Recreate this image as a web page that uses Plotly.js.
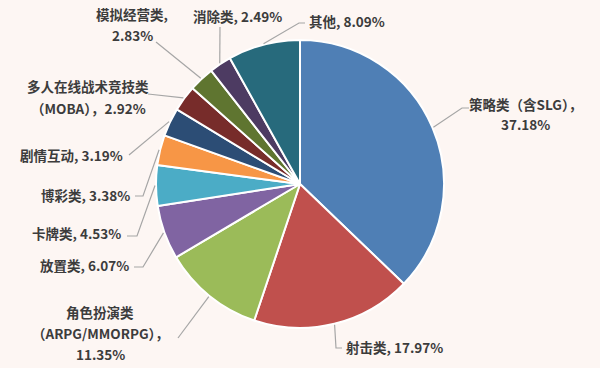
<!DOCTYPE html>
<html><head><meta charset="utf-8">
<script src="https://cdn.plot.ly/plotly-3.0.1.min.js"></script>
<style>html,body{margin:0;padding:0;background:#fdf6f3;}</style>
</head><body><div id="chart" style="width:600px;height:368px;"></div>
<script>
// Data
const categories = ["策略类（含SLG）","射击类","角色扮演类（ARPG/MMORPG）","放置类","卡牌类","博彩类","剧情互动","多人在线战术竞技类（MOBA）","模拟经营类","消除类","其他"];
const values = [37.18, 17.97, 11.35, 6.07, 4.53, 3.38, 3.19, 2.92, 2.83, 2.49, 8.09];
const labelTexts = [
  "策略类（含SLG），<br>37.18%",
  "射击类, 17.97%",
  "角色扮演类<br>（ARPG/MMORPG），<br>11.35%",
  "放置类, 6.07%",
  "卡牌类, 4.53%",
  "博彩类, 3.38%",
  "剧情互动, 3.19%",
  "多人在线战术竞技类<br>（MOBA），2.92%",
  "模拟经营类,<br>2.83%",
  "消除类, 2.49%",
  "其他, 8.09%"
];
const colors = ["#4f7fb5","#c0504d","#9bbb59","#8064a2","#4bacc6","#f79646","#2c4d75","#772c2a","#5f7530","#4d3b62","#276a7c"];

// Layout (pixels)
const W = 600, H = 368;
const cx = 300, cy = 184, R = 144;
const lineGap = 21;
// label placement: [x, y(center of block), xanchor, leader path points after edge]
const labelPos = [
  [525, 114, "center", [[462,108],[469,108]]],
  [344, 347, "left", [[336,348],[342,348]]],
  [100, 333, "center", [[178,338]]],
  [131, 265, "right", [[143,267],[134,267]]],
  [123, 233, "right", [[137,236],[127,236]]],
  [132, 195, "right", [[143,196],[135,196]]],
  [125, 155, "right", [[129,155]]],
  [88, 97, "center", [[148,94]]],
  [132, 24, "center", [[156,42]]],
  [191, 16, "left", [[220,27]]],
  [307, 21, "left", [[299,23],[305,23]]]
];
const px = x => x / W, py = y => (H - y) / H;

const total = values.reduce((a,b)=>a+b,0);
let cum = 0;
const annotations = [], shapes = [];
values.forEach((v,i) => {
  const mid = (cum + v/2) / total * 2*Math.PI;
  cum += v;
  const ex = cx + (R+1)*Math.sin(mid), ey = cy - (R+1)*Math.cos(mid);
  const p = labelPos[i];
  let d = "M" + px(ex) + "," + py(ey);
  p[3].forEach(pt => { d += " L" + px(pt[0]) + "," + py(pt[1]); });
  shapes.push({type:"path", xref:"paper", yref:"paper", path:d, line:{color:"#a6a6a6", width:1.2}});
  const lines = labelTexts[i].split("<br>");
  lines.forEach((t, k) => {
    const yy = p[1] + (k - (lines.length-1)/2) * lineGap;
    annotations.push({
      xref:"paper", yref:"paper", x:px(p[0]), y:py(yy), xanchor:p[2], yanchor:"middle",
      text:t, showarrow:false,
      font:{family:"Noto Sans CJK SC, sans-serif", size:13.5, color:"#3c3c3c", weight:"bold"}
    });
  });
});

const trace = {
  type:"pie", labels:categories, values:values, sort:false, direction:"clockwise", rotation:0,
  marker:{colors:colors, line:{color:"#ffffff", width:2}},
  textinfo:"none", hoverinfo:"label+percent", showlegend:false,
  domain:{x:[px(cx-R), px(cx+R)], y:[py(cy+R), py(cy-R)]}
};
const layout = {
  width:W, height:H, margin:{l:0,r:0,t:0,b:0},
  paper_bgcolor:"#fdf6f3", plot_bgcolor:"#fdf6f3",
  showlegend:false, annotations:annotations, shapes:shapes
};
Plotly.newPlot("chart", [trace], layout, {displayModeBar:false, staticPlot:true});
</script></body></html>
